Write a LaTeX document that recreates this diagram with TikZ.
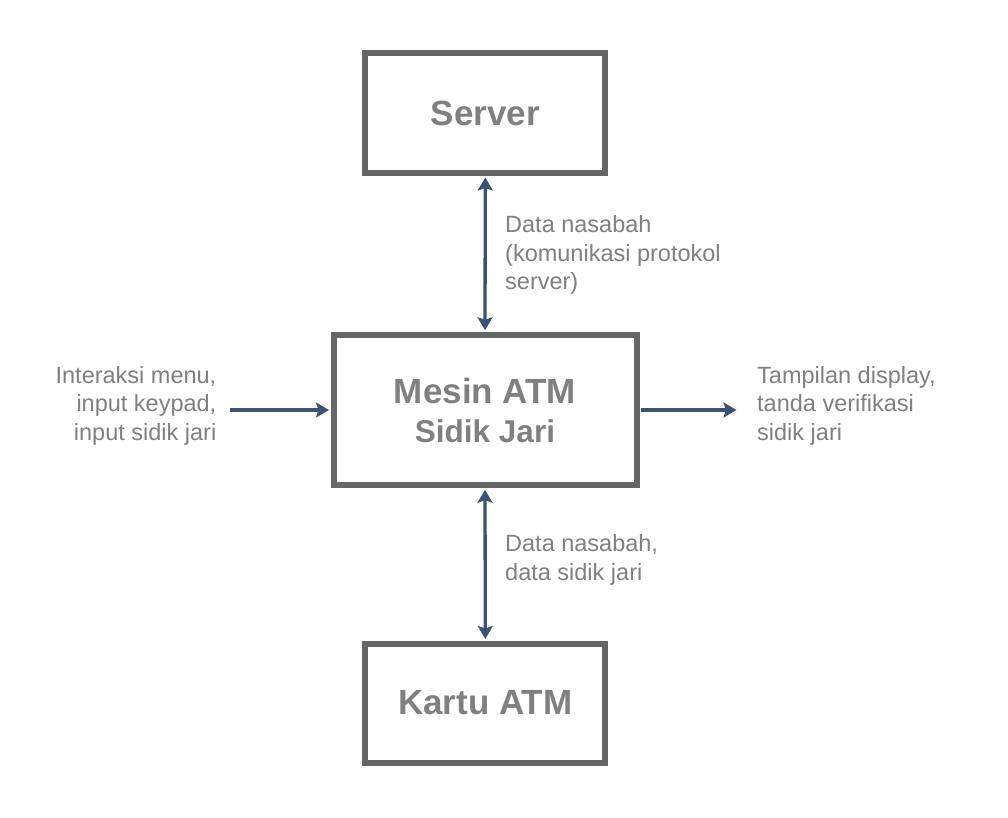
\documentclass[tikz,border=0pt]{standalone}
\usepackage{fontspec}
\setmainfont{Liberation Sans}
\usetikzlibrary{arrows.meta,positioning,calc}
\definecolor{boxgray}{HTML}{666666}
\definecolor{txtgray}{HTML}{808080}
\definecolor{flowblue}{RGB}{61,81,112}

\begin{document}
\begin{tikzpicture}[x=1pt,y=-1pt,
  box/.style={draw=boxgray,line width=6pt,rectangle,inner sep=0pt,text=txtgray,font=\bfseries\fontsize{35}{39}\selectfont},
  tip/.style={-{Stealth[length=13pt,width=15pt,inset=2.5pt]}},
  flow/.style={draw=flowblue,line width=3.3pt,shorten >=1.5pt,shorten <=1.5pt,tip},
  both/.style={{Stealth[length=13pt,width=15pt,inset=2.5pt]}-{Stealth[length=13pt,width=15pt,inset=2.5pt]}},
  lbl/.style={text=txtgray,inner sep=0pt,font=\fontsize{23.5}{28.5}\selectfont}]
\path[fill=white] (0,0) rectangle (1008,818);

% blocks
\node[box,minimum width=240pt,minimum height=120pt] (server) at (485.3,113) {Server};
\node[box,minimum width=303pt,minimum height=150.5pt,align=center] (atm) at (485,410) {Mesin ATM\\{\fontsize{31.5}{39}\selectfont Sidik Jari}};
\node[box,minimum width=240pt,minimum height=119pt] (kartu) at (485.3,703) {Kartu ATM};

% free ends
\coordinate (inL) at (228,410);
\coordinate (outR) at (738,410);

% flows
\draw[flow,both] (server.south) -- (atm.north);
\draw[flow,both] (atm.south) -- (kartu.north);
\draw[flow] (inL) -- (atm.west);
\draw[flow] (atm.east) -- (outR);

% labels
\node[lbl,anchor=west,align=left] (lblsrv) at (505,255) {Data nasabah\\(komunikasi protokol\\server)};
\node[lbl,anchor=west,align=left] (lblcard) at (505,560) {Data nasabah,\\data sidik jari};
\node[lbl,anchor=east,align=right] (lblin) at (216.5,405.5) {Interaksi menu,\\input keypad,\\input sidik jari};
\node[lbl,anchor=west,align=left] (lblout) at (757,405.5) {Tampilan display,\\tanda verifikasi\\sidik jari};
\end{tikzpicture}
\end{document}
